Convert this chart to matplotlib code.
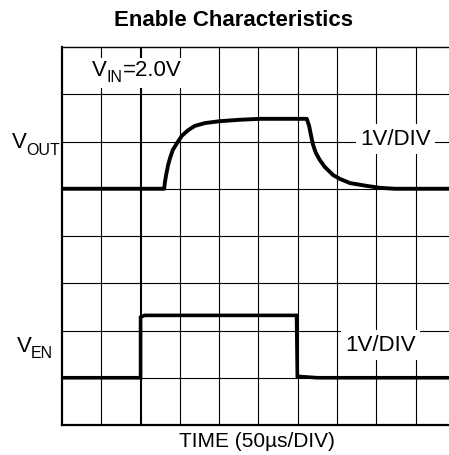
import numpy as np
import matplotlib
matplotlib.use("Agg")
import matplotlib.pyplot as plt

plt.rcParams['font.family'] = ['Liberation Sans', 'DejaVu Sans']

# scope traces, in divisions (x: 50us/div, y: 1V/div, screen units)
vout_t = [0.0, 2.60, 2.62, 2.65, 2.70, 2.75, 2.82, 2.93, 3.05, 3.21, 3.38, 3.64, 4.02,
          4.53, 5.04, 6.23, 6.29, 6.34, 6.39, 6.46, 6.56, 6.69, 6.90, 7.07, 7.33,
          7.76, 8.09, 8.47, 9.9]
vout_v = [5.0, 5.0, 5.14, 5.29, 5.50, 5.65, 5.82, 5.97, 6.12, 6.24, 6.33, 6.39, 6.43,
          6.46, 6.48, 6.48, 6.33, 6.12, 5.93, 5.76, 5.61, 5.46, 5.29, 5.21, 5.12,
          5.06, 5.02, 5.0, 5.0]

ven_t = [0.0, 2.0, 2.0, 2.1, 5.97, 5.99, 6.5, 9.9]
ven_v = [1.0, 1.0, 2.28, 2.32, 2.32, 1.03, 1.0, 1.0]

n_x_div = 9.85
n_y_div = 8

W, H = 449, 455
fig = plt.figure(figsize=(W / 100, H / 100), dpi=100)
ax = fig.add_axes([62 / W, 30 / H, 1 - 62 / W, (425 - 47) / H])
ax.set_xlim(0, n_x_div)
ax.set_ylim(0, n_y_div)

# graticule
for i in range(1, 10):
    ax.axvline(i, color='black', lw=1.5 if i == 2 else 0.8, zorder=1)
for j in range(1, n_y_div):
    ax.axhline(j, color='black', lw=0.8, zorder=1)

ax.plot(vout_t, vout_v, color='black', lw=2.8, solid_joinstyle='round', zorder=3)
ax.plot(ven_t, ven_v, color='black', lw=2.6, solid_joinstyle='miter', zorder=3)

ax.set_xticks([])
ax.set_yticks([])
ax.spines['right'].set_visible(False)
ax.spines['left'].set_linewidth(1.6)
ax.spines['bottom'].set_linewidth(1.6)
ax.spines['top'].set_linewidth(1.0)


def px_text(x, y, s, size, **kw):
    # place text by pixel position (from top-left), baseline aligned
    return fig.text(x / W, 1 - y / H, s, fontsize=size, va='baseline', **kw)


box = dict(facecolor='white', edgecolor='none', pad=3)

# V_IN=2.0V label with white backing
fig.patches.append(plt.Rectangle((88 / W, 1 - 88 / H), 94 / W, 30 / H, transform=fig.transFigure,
                                 facecolor='white', edgecolor='none', zorder=2))
px_text(92, 76, 'V', 16)
px_text(106, 82, 'IN', 11.5)
px_text(123, 76, '=2.0V', 16)

ax.text(8.5, 6.05, '1V/DIV', fontsize=16, ha='center', va='center', bbox=box, zorder=4)
ax.text(8.1, 1.69, '1V/DIV', fontsize=16, ha='center', va='center', bbox=box, zorder=4)

px_text(12, 148, 'V', 16)
px_text(26, 155, 'OUT', 11.5)
px_text(17, 352, 'V', 16)
px_text(31, 358, 'EN', 11.5)

px_text(257, 447, 'TIME (50µs/DIV)', 15, ha='center')
fig.text(234 / W, 1 - 20 / H, 'Enable Characteristics', fontsize=16, fontweight='bold',
         ha='center', va='center')

fig.savefig('out.png', dpi=100)
